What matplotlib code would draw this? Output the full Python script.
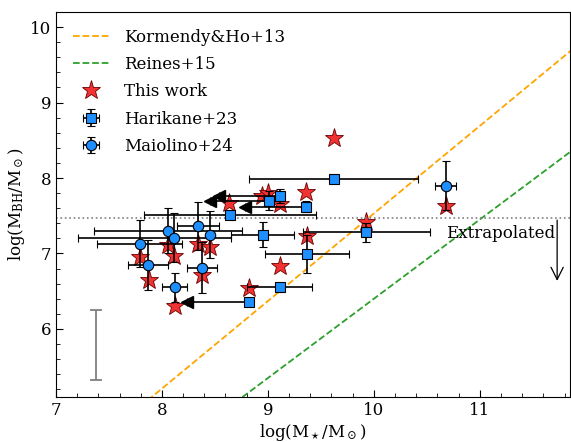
import numpy as np
import matplotlib
matplotlib.use('Agg')
import matplotlib.pyplot as plt

plt.rcParams['font.family'] = 'DejaVu Serif'
plt.rcParams['mathtext.fontset'] = 'dejavuserif'

# This work (stars)
star_x = [7.79, 7.88, 8.06, 8.11, 8.12, 8.34, 8.45, 8.38, 8.63, 8.94,
          9.00, 9.11, 9.36, 9.37, 9.11, 8.82, 9.62, 9.93, 10.68]
star_y = [6.95, 6.65, 7.11, 6.97, 6.30, 7.13, 7.09, 6.71, 7.67, 7.76,
          7.80, 7.66, 7.81, 7.23, 6.84, 6.54, 8.53, 7.42, 7.63]

# Harikane+23 (squares)
h_x = [9.11, 9.01, 9.36, 8.64, 8.95, 8.82, 9.11, 9.37, 9.93, 9.62]
h_y = [7.76, 7.70, 7.62, 7.51, 7.25, 6.36, 6.56, 6.99, 7.28, 7.99]
h_xerr = [0.57, 0.56, 0.58, 0.81, 0.30, 0.58, 0.31, 0.40, 0.60, 0.80]
h_yerr = [0.09, 0.13, 0.07, 0.0, 0.17, 0.0, 0.0, 0.25, 0.13, 0.0]
h_uplim = [True, True, True, False, False, True, False, False, False, False]

# Maiolino+24 (circles)
m_x = [7.79, 7.87, 8.06, 8.11, 8.12, 8.34, 8.45, 8.38, 10.68]
m_y = [7.13, 6.85, 7.30, 7.21, 6.55, 7.36, 7.25, 6.81, 7.90]
m_xlo = [0.40, 0.19, 0.70, 0.90, 0.12, 0.20, 0.0, 0.14, 0.10]
m_xhi = [0.40, 0.19, 0.70, 0.54, 0.12, 0.20, 0.0, 0.14, 0.10]
m_yerr = [0.31, 0.33, 0.30, 0.32, 0.19, 0.32, 0.31, 0.34, 0.33]

# local relations
xx = np.linspace(7, 12, 100)
kh13 = 8.69 + 1.16 * (xx - 11)
rv15 = 7.45 + 1.05 * (xx - 11)

h_x = np.array(h_x)
h_y = np.array(h_y)
h_xerr = np.array(h_xerr)
h_uplim = np.array(h_uplim)
# upper limits on stellar mass only extend to the left
h_xhi = np.where(h_uplim, 0.0, h_xerr)

fig = plt.figure(figsize=(5.71, 4.42), dpi=100)
ax = fig.add_axes([0.098, 0.102, 0.900, 0.871])

ax.plot(xx, kh13, '--', color='orange', lw=1.3, label='Kormendy&Ho+13')
ax.plot(xx, rv15, '--', color='#2ca02c', lw=1.3, label='Reines+15')

ax.plot(star_x, star_y, '*', ms=14, color='#f03232', mec='#6a0000', mew=0.6,
        zorder=2, label='This work')

ax.errorbar(h_x, h_y, xerr=[h_xerr, h_xhi], yerr=h_yerr, fmt='s',
            ms=7, mfc='#1e8fff', mec='k', mew=0.8, ecolor='k', elinewidth=1.2,
            capsize=3, capthick=1.2, zorder=3, label='Harikane+23')
# arrow heads for the limits
ax.plot(h_x[h_uplim] - h_xerr[h_uplim], h_y[h_uplim], '<', color='k',
        ms=8, zorder=3)
ax.errorbar(m_x, m_y, xerr=[m_xlo, m_xhi], yerr=m_yerr, fmt='o',
            ms=7.5, mfc='#1e8fff', mec='k', mew=0.8, ecolor='k', elinewidth=1.2,
            capsize=3, capthick=1.2, zorder=3, label='Maiolino+24')

# typical uncertainty
ax.errorbar([7.38], [5.785], yerr=[0.465], fmt='none', ecolor='gray',
            elinewidth=1.3, capsize=4, capthick=1.3)

ax.axhline(7.47, color='gray', ls=':', lw=1.2)
ax.text(10.68, 7.26, 'Extrapolated', fontsize=12, ha='left', va='center')
ax.annotate('', xy=(11.73, 6.6), xytext=(11.73, 7.48),
            arrowprops=dict(arrowstyle='->', color='k', lw=0.9,
                            mutation_scale=22))

ax.set_xlim(7, 11.85)
ax.set_ylim(5.1, 10.2)
ax.set_xticks([7, 8, 9, 10, 11])
ax.set_yticks([6, 7, 8, 9, 10])
ax.set_xticks(np.arange(7.2, 11.85, 0.2), minor=True)
ax.set_yticks(np.arange(5.2, 10.2, 0.2), minor=True)
ax.tick_params(which='both', direction='in', labelsize=12)
ax.tick_params(which='major', length=5)
ax.tick_params(which='minor', length=3)
ax.set_xlabel(r'log(M$_\star$/M$_\odot$)', fontsize=12, labelpad=2)
ax.set_ylabel(r'log(M$_{\rm BH}$/M$_\odot$)', fontsize=12, labelpad=2)

ax.legend(loc='upper left', frameon=False, fontsize=12, labelspacing=0.62,
          handlelength=2.2, handletextpad=0.9, borderaxespad=0.6)

fig.savefig('out.png', dpi=100)
